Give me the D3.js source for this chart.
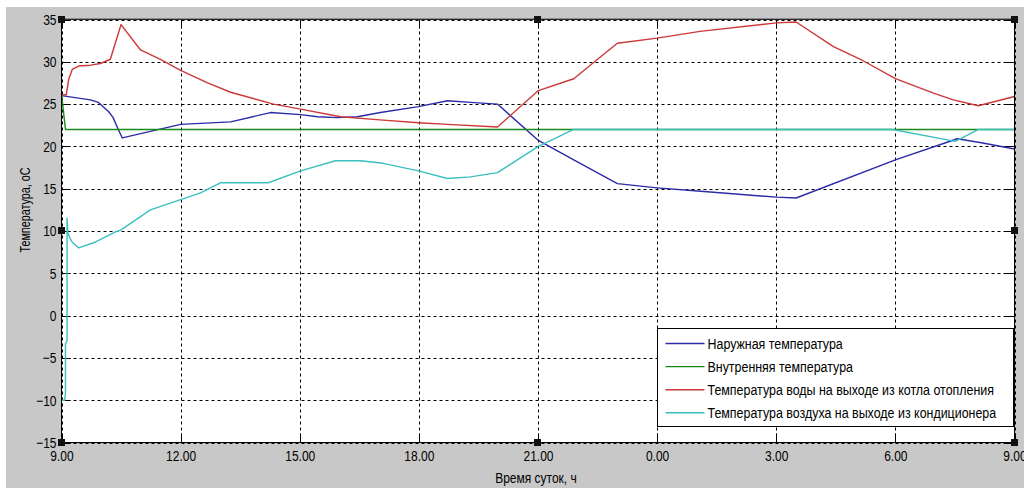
<!DOCTYPE html>
<html>
<head>
<meta charset="utf-8">
<script src="https://cdn.jsdelivr.net/npm/d3@7"></script>
<style>
	body{margin:0;background:#fff;}
	svg{display:block;font-family:"Liberation Sans",Arial,sans-serif;}
</style>
</head>
<body>
<script>
// data: [hour, degC], hours past midnight run on as 24..33
const seriesNames = [
	"Наружная температура",
	"Внутренняя температура",
	"Температура воды на выходе из котла отопления",
	"Температура воздуха на выходе из кондиционера"
];
const xTickValues = [9, 12, 15, 18, 21, 24, 27, 30, 33];
const xTickLabels = ["9.00", "12.00", "15.00", "18.00", "21.00", "0.00", "3.00", "6.00", "9.00"];
const yTickValues = [-15, -10, -5, 0, 5, 10, 15, 20, 25, 30, 35];

const outsideTemp = [
	[9.0, 26.0], [9.73, 25.5], [9.93, 25.2], [10.19, 24.1], [10.3, 23.4], [10.43, 22.0],
	[10.53, 21.0], [12.0, 22.6], [13.26, 22.9], [14.26, 24.0], [15.02, 23.75], [15.45, 23.5],
	[15.95, 23.4], [16.45, 23.5], [17.03, 24.0], [17.99, 24.7], [18.72, 25.4], [19.3, 25.2],
	[19.98, 25.0], [21.01, 20.7], [21.9, 18.4], [23.0, 15.6], [24.0, 15.1], [25.1, 14.7],
	[27.0, 14.0], [27.5, 13.9], [30.0, 18.4], [31.56, 20.9], [32.2, 20.4], [33.0, 19.7]
];
const insideTemp = [
	[9.0, 26.2], [9.1, 22.0], [33.0, 22.0]
];
const boilerWaterTemp = [
	[9.0, 26.1], [9.12, 26.1], [9.18, 27.9], [9.27, 29.1], [9.43, 29.5], [9.73, 29.6],
	[9.98, 29.8], [10.23, 30.3], [10.5, 34.4], [10.99, 31.4], [11.49, 30.3], [12.0, 29.0],
	[12.68, 27.5], [13.26, 26.4], [14.34, 25.0], [15.02, 24.4], [16.03, 23.5], [17.1, 23.1],
	[17.99, 22.8], [18.72, 22.6], [19.98, 22.3], [21.01, 26.6], [21.9, 28.0], [22.5, 30.3],
	[23.0, 32.2], [24.0, 32.8], [25.08, 33.6], [27.0, 34.6], [27.5, 34.7], [28.44, 31.8],
	[29.12, 30.3], [30.0, 28.0], [30.96, 26.3], [31.46, 25.5], [32.09, 24.8], [33.0, 25.9]
];
const conditionerAirTemp = [
	[9.0, -10.0], [9.08, -10.0], [9.1, -9.2], [9.1, -3.3], [9.14, -3.0], [9.14, 11.5],
	[9.16, 9.8], [9.25, 8.8], [9.43, 8.0], [9.86, 8.7], [10.36, 9.9], [10.49, 10.1],
	[11.24, 12.5], [12.0, 13.7], [12.5, 14.5], [13.0, 15.7], [14.21, 15.7], [15.02, 17.1],
	[15.9, 18.3], [16.53, 18.3], [17.1, 18.0], [17.99, 17.1], [18.72, 16.2], [19.3, 16.4],
	[19.98, 16.9], [21.01, 20.0], [21.9, 22.0], [29.93, 22.0], [31.51, 20.6], [32.09, 22.0],
	[33.0, 22.0]
];
const allSeries = [outsideTemp, insideTemp, boilerWaterTemp, conditionerAirTemp];

(function(){
	//Configure figure
	const Config = {
		svg: {Width: 1024, Height: 488},
		plot: {left: 61.5, top: 19.5, right: 1014.5, bottom: 442.5},
		colors: ["#2b2ba8", "#1a8a1a", "#cc3838", "#3cbfbf"],
		panel: "#c8c8c8",
		tickLen: 9,
		narrow: 0.8
	};
	var P = Config.plot;

	var svg = d3.select('body').append('svg')
		.attr('width', Config.svg.Width)
		.attr('height', Config.svg.Height);

	// squeeze text sideways like the original font
	function narrow(sel, k){
		sel.each(function(){
			var t = d3.select(this);
			var x = +t.attr('x') || 0;
			var tr = t.attr('transform') || '';
			t.attr('x', x/k).attr('transform', tr + ' scale(' + k + ',1)');
		});
	}

	svg.append('rect')
		.attr('x', 6).attr('y', 7)
		.attr('width', Config.svg.Width - 6).attr('height', Config.svg.Height - 7)
		.attr('fill', Config.panel);

	var scaleX = d3.scaleLinear().domain([9, 33]).range([P.left, P.right]);
	var scaleY = d3.scaleLinear().domain([-15, 35]).range([P.bottom, P.top]);

	svg.append('rect')
		.attr('x', P.left).attr('y', P.top)
		.attr('width', P.right - P.left).attr('height', P.bottom - P.top)
		.attr('fill', '#fff');

	//grid
	var grid = svg.append('g').attr('stroke', '#000').attr('stroke-width', 1).attr('stroke-dasharray', '3,3');
	grid.selectAll('.vgrid').data(xTickValues).enter().append('line')
		.attr('x1', function(d){ return Math.round(scaleX(d)) + 0.5; })
		.attr('x2', function(d){ return Math.round(scaleX(d)) + 0.5; })
		.attr('y1', P.top).attr('y2', P.bottom);
	grid.selectAll('.hgrid').data(yTickValues).enter().append('line')
		.attr('y1', function(d){ return Math.round(scaleY(d)) + 0.5; })
		.attr('y2', function(d){ return Math.round(scaleY(d)) + 0.5; })
		.attr('x1', P.left).attr('x2', P.right);

	//inner tick marks
	var ticks = svg.append('g').attr('stroke', '#000').attr('stroke-width', 1);
	xTickValues.forEach(function(d){
		var x = Math.round(scaleX(d)) + 0.5;
		ticks.append('line').attr('x1', x).attr('x2', x).attr('y1', P.bottom).attr('y2', P.bottom - Config.tickLen);
		ticks.append('line').attr('x1', x).attr('x2', x).attr('y1', P.top).attr('y2', P.top + Config.tickLen);
	});
	yTickValues.forEach(function(d){
		var y = Math.round(scaleY(d)) + 0.5;
		ticks.append('line').attr('y1', y).attr('y2', y).attr('x1', P.left).attr('x2', P.left + Config.tickLen);
		ticks.append('line').attr('y1', y).attr('y2', y).attr('x1', P.right).attr('x2', P.right - Config.tickLen);
	});

	//series
	var line = d3.line()
		.x(function(d){ return scaleX(d[0]); })
		.y(function(d){ return scaleY(d[1]); });
	svg.append('g').selectAll('path').data(allSeries).enter().append('path')
		.attr('fill', 'none')
		.attr('stroke', function(d, i){ return Config.colors[i]; })
		.attr('stroke-width', 1.4)
		.attr('stroke-linejoin', 'round')
		.attr('d', line);

	//frame
	svg.append('rect')
		.attr('x', P.left).attr('y', P.top)
		.attr('width', P.right - P.left).attr('height', P.bottom - P.top)
		.attr('fill', 'none').attr('stroke', '#000').attr('stroke-width', 1);
	svg.append('line')
		.attr('x1', P.left).attr('x2', P.right).attr('y1', P.top - 0.5).attr('y2', P.top - 0.5)
		.attr('stroke', '#555');

	//axis x
	var axX = svg.append('g')
		.attr('transform', 'translate(0,' + P.bottom + ')')
		.call(d3.axisBottom(scaleX).tickValues(xTickValues)
			.tickFormat(function(d, i){ return xTickLabels[i]; })
			.tickSize(0).tickPadding(8));
	//axis y
	var axY = svg.append('g')
		.attr('transform', 'translate(' + P.left + ',0)')
		.call(d3.axisLeft(scaleY).tickValues(yTickValues).tickSize(0).tickPadding(5));
	[axX, axY].forEach(function(ax){
		ax.select('.domain').remove();
		ax.selectAll('text').attr('fill', '#000').attr('font-size', 15)
			.attr('font-family', '"Liberation Sans",Arial,sans-serif');
		narrow(ax.selectAll('text'), Config.narrow);
	});

	//axis titles
	var xt = svg.append('text')
		.attr('x', 536).attr('y', 483)
		.attr('text-anchor', 'middle').attr('font-size', 15)
		.text('Время суток, ч');
	narrow(xt, Config.narrow);
	var yt = svg.append('text')
		.attr('transform', 'translate(30,210) rotate(-90)')
		.attr('text-anchor', 'middle').attr('font-size', 15)
		.text('Температура, оС');
	narrow(yt, 0.72);

	//legend
	var lg = svg.append('g').attr('transform', 'translate(657.5,328.5)');
	lg.append('rect').attr('width', 356).attr('height', 98)
		.attr('fill', '#fff').attr('stroke', '#000');
	var rows = lg.selectAll('.row').data(seriesNames).enter().append('g')
		.attr('transform', function(d, i){ return 'translate(0,' + (15 + i*23.1) + ')'; });
	rows.append('line').attr('x1', 8).attr('x2', 47)
		.attr('stroke', function(d, i){ return Config.colors[i]; }).attr('stroke-width', 1.4);
	var lt = rows.append('text').attr('x', 50).attr('y', 5.5)
		.attr('font-size', 15).text(function(d){ return d; });
	narrow(lt, 0.83);

	//selection handles
	var hx = [P.left, (P.left + P.right)/2, P.right];
	var hy = [P.top, (P.top + P.bottom)/2, P.bottom];
	hx.forEach(function(x, i){
		hy.forEach(function(y, j){
			if(i == 1 && j == 1) return;
			svg.append('rect').attr('x', Math.round(x) - 4).attr('y', Math.round(y) - 4)
				.attr('width', 7).attr('height', 7).attr('fill', '#111');
		});
	});
})();
</script>
</body>
</html>
